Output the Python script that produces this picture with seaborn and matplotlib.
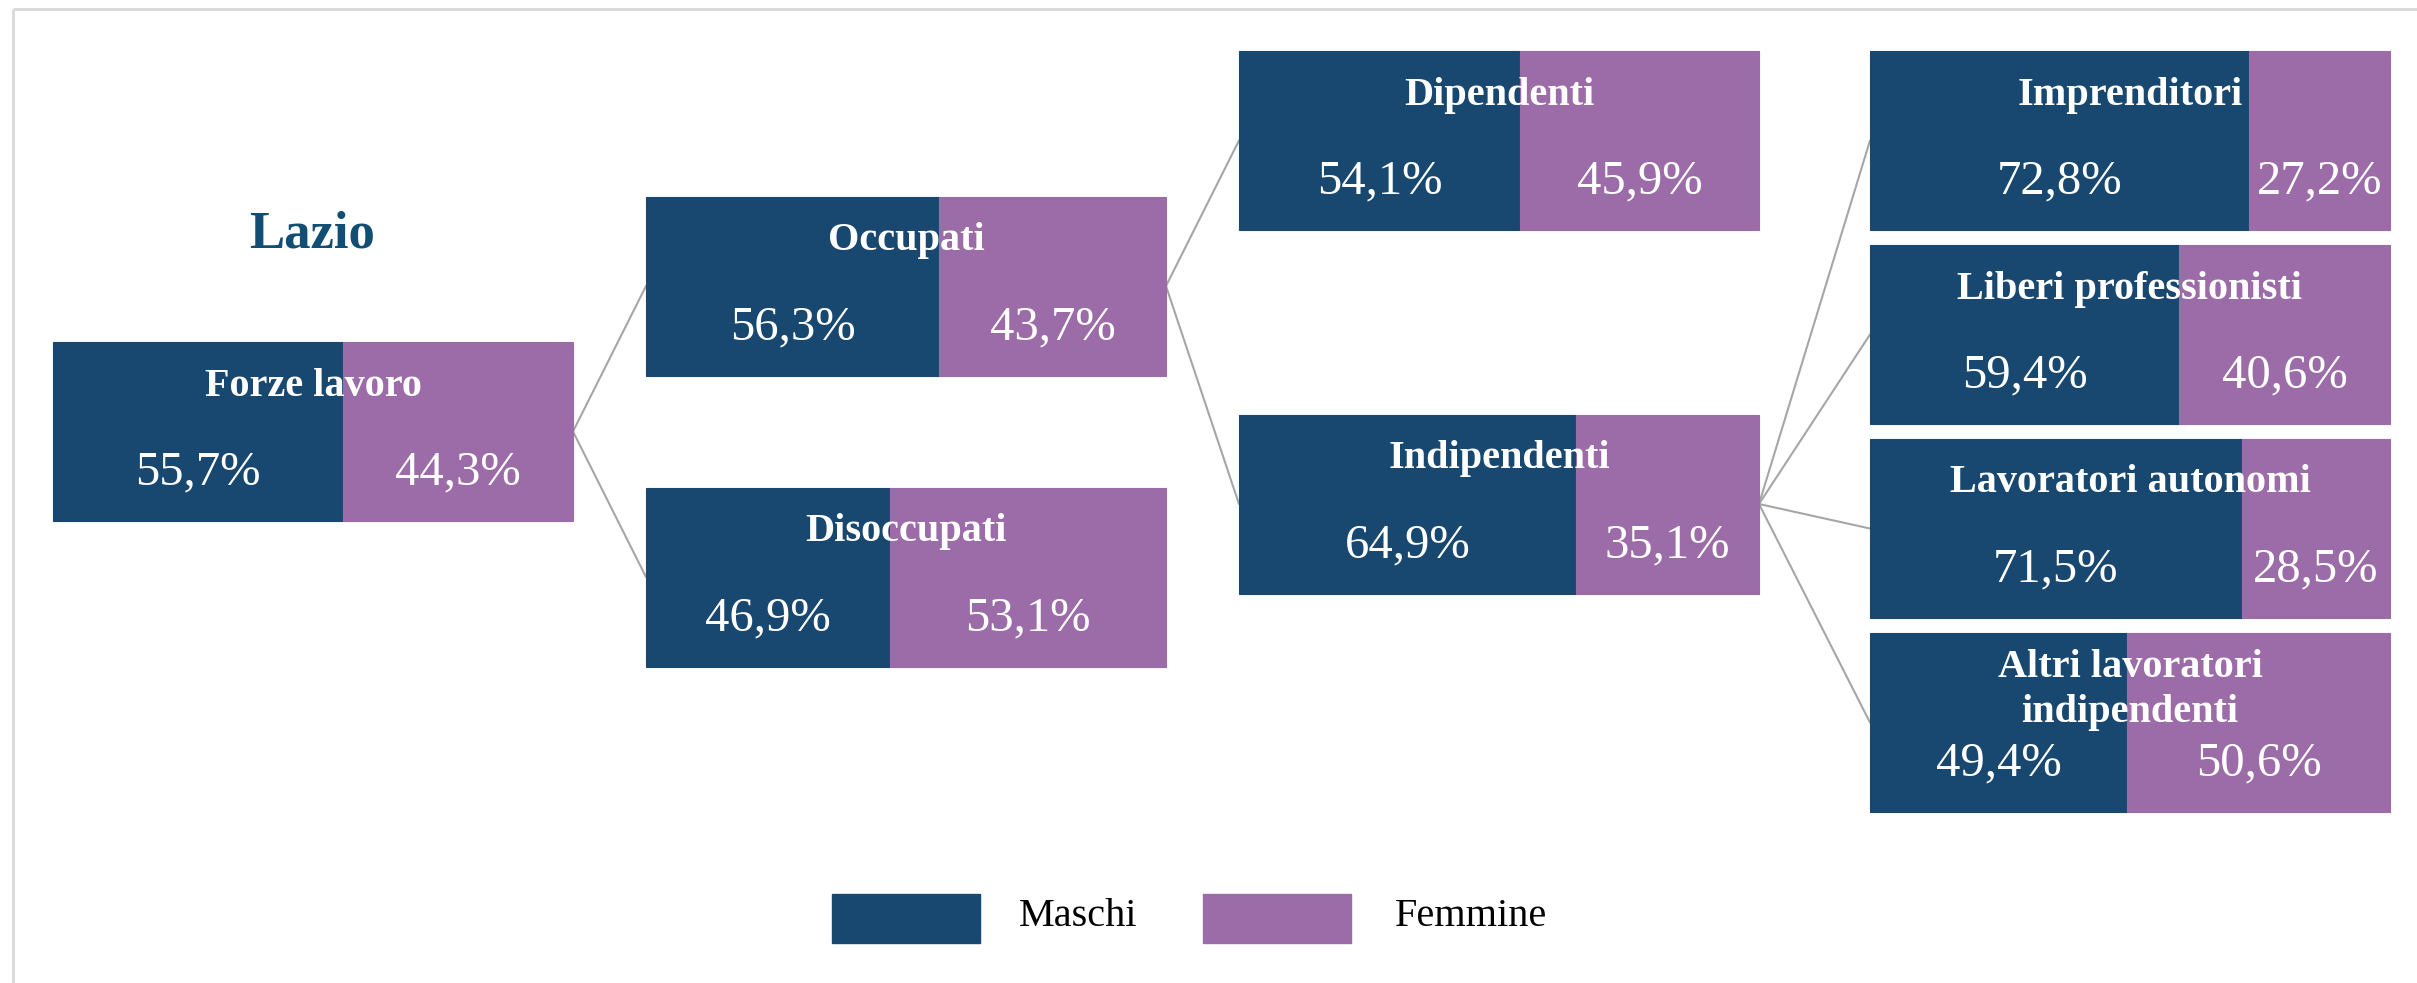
import matplotlib.pyplot as plt
import pandas as pd
import seaborn as sns

# data
categories = [
    "Forze lavoro",
    "Occupati",
    "Disoccupati",
    "Dipendenti",
    "Indipendenti",
    "Imprenditori",
    "Liberi professionisti",
    "Lavoratori autonomi",
    "Altri lavoratori\nindipendenti",
]
maschi = [55.7, 56.3, 46.9, 54.1, 64.9, 72.8, 59.4, 71.5, 49.4]
femmine = [44.3, 43.7, 53.1, 45.9, 35.1, 27.2, 40.6, 28.5, 50.6]
parents = [None, 0, 0, 1, 1, 4, 4, 4, 4]
series_labels = ["Maschi", "Femmine"]
region = "Lazio"

# layout (pixel space of the output image)
W, H = 2417, 983
BOX_W, BOX_H = 520, 179
box_left = [53, 646, 646, 1239, 1239, 1870, 1870, 1870, 1870]
box_top = [342, 196.5, 487.5, 51, 414.5, 51, 245, 439, 633]

COL_M = "#184870"
COL_F = "#9c6ca8"

sns.set_theme(style="white")
plt.rcParams["font.family"] = ["Liberation Serif", "DejaVu Serif"]

df = pd.DataFrame(
    {
        "categoria": categories,
        "maschi": maschi,
        "femmine": femmine,
        "parent": parents,
        "left": box_left,
        "top": box_top,
    }
)
df["yc"] = df["top"] + BOX_H / 2
df["w_m"] = df["maschi"] / 100 * BOX_W
df["w_f"] = df["femmine"] / 100 * BOX_W

fig = plt.figure(figsize=(W / 100, H / 100), dpi=100)
ax = fig.add_axes([0, 0, 1, 1])
ax.set_xlim(0, W)
ax.set_ylim(H, 0)
ax.axis("off")

# frame lines (top and left only)
ax.plot([13, W], [9, 9], color="#d9d9d9", lw=2, solid_capstyle="butt")
ax.plot([13, 13], [9, H], color="#d9d9d9", lw=2, solid_capstyle="butt")

# connector lines
for _, row in df.iterrows():
    if pd.isna(row["parent"]):
        continue
    p = df.loc[int(row["parent"])]
    ax.plot(
        [p["left"] + BOX_W, row["left"]],
        [p["yc"], row["yc"]],
        color="#a6a6a6",
        lw=1.5,
        zorder=1,
    )

# stacked bars
ax.barh(df["yc"], df["w_m"], left=df["left"], height=BOX_H,
        color=COL_M, edgecolor=COL_M, lw=0.8, zorder=2)
ax.barh(df["yc"], df["w_f"], left=df["left"] + df["w_m"], height=BOX_H,
        color=COL_F, edgecolor=COL_F, lw=0.8, zorder=2)


def fmt(v):
    return f"{v:.1f}".replace(".", ",") + "%"


for _, row in df.iterrows():
    two_lines = "\n" in row["categoria"]
    ly = row["top"] + (57 if two_lines else 44)
    ax.text(
        row["left"] + BOX_W / 2,
        ly,
        row["categoria"],
        ha="center",
        va="center",
        color="white",
        fontsize=29,
        fontweight="bold",
        linespacing=1.3,
        zorder=3,
    )
    py = row["top"] + BOX_H * 0.73
    ax.text(
        row["left"] + row["w_m"] / 2,
        py,
        fmt(row["maschi"]),
        ha="center",
        va="center",
        color="white",
        fontsize=35,
        zorder=3,
    )
    ax.text(
        row["left"] + row["w_m"] + row["w_f"] / 2,
        py,
        fmt(row["femmine"]),
        ha="center",
        va="center",
        color="white",
        fontsize=35,
        zorder=3,
    )

ax.text(312, 234, region, ha="center", va="center", color="#124d73",
        fontsize=38, fontweight="bold")

# legend
for (x0, label_x), label, col in zip(
    [(832, 1019), (1203, 1395)], series_labels, [COL_M, COL_F]
):
    ax.add_patch(plt.Rectangle((x0, 894), 148, 49, color=col))
    ax.text(label_x, 917, label, ha="left", va="center", color="black",
            fontsize=29)

fig.savefig("out.png", dpi=100, facecolor="white")
